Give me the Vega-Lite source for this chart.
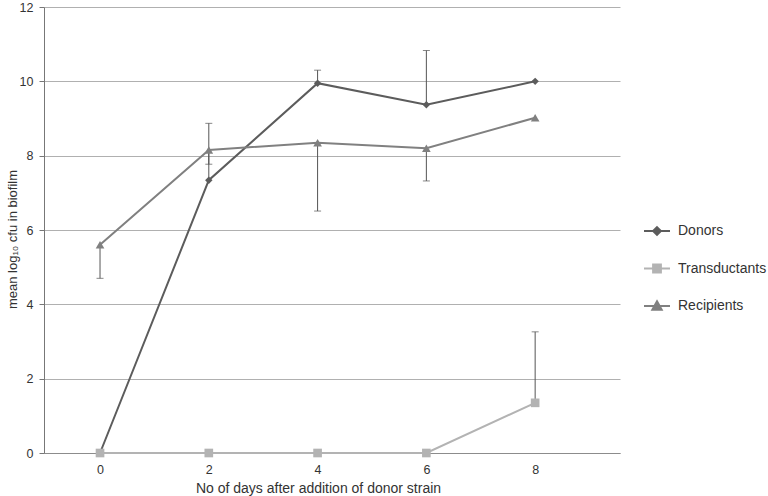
{
  "$schema": "https://vega.github.io/schema/vega-lite/v6.json",
  "autosize": "none",
  "width": 576,
  "height": 446,
  "padding": {"left": 44, "top": 7, "right": 148, "bottom": 43},
  "background": "white",
  "config": {
    "view": {"stroke": null},
    "font": "Liberation Sans",
    "axis": {"labelFont": "Liberation Sans", "titleFont": "Liberation Sans", "labelColor": "#333333", "titleColor": "#333333", "titleFontWeight": "normal", "labelFontSize": 12.5, "titleFontSize": 13}
  },
  "data": {
    "values": [
      {"series": "Donors", "day": 0, "mean": 0, "err": null},
      {"series": "Donors", "day": 2, "mean": 7.34, "err": 8.87},
      {"series": "Donors", "day": 4, "mean": 9.95, "err": 10.3},
      {"series": "Donors", "day": 6, "mean": 9.37, "err": 10.83},
      {"series": "Donors", "day": 8, "mean": 10.0, "err": null},
      {"series": "Transductants", "day": 0, "mean": 0, "err": null},
      {"series": "Transductants", "day": 2, "mean": 0, "err": null},
      {"series": "Transductants", "day": 4, "mean": 0, "err": null},
      {"series": "Transductants", "day": 6, "mean": 0, "err": null},
      {"series": "Transductants", "day": 8, "mean": 1.35, "err": 3.26},
      {"series": "Recipients", "day": 0, "mean": 5.6, "err": 4.7},
      {"series": "Recipients", "day": 2, "mean": 8.15, "err": 7.77},
      {"series": "Recipients", "day": 4, "mean": 8.35, "err": 6.51},
      {"series": "Recipients", "day": 6, "mean": 8.2, "err": 7.32},
      {"series": "Recipients", "day": 8, "mean": 9.02, "err": null}
    ]
  },
  "encoding": {
    "x": {
      "field": "day", "type": "quantitative",
      "scale": {"domain": [-1.03, 9.56], "nice": false, "zero": false},
      "axis": {"values": [0, 2, 4, 6, 8], "grid": false, "ticks": false, "domainColor": "#8c8c8c", "labelPadding": 10, "titleY": 35, "titleX": 274, "titleBaseline": "middle", "titleFontSize": 14, "title": "No of days after addition of donor strain"}
    }
  },
  "layer": [
    {
      "transform": [{"filter": "datum.err != null"}],
      "mark": {"type": "rule", "color": "#555555", "strokeWidth": 1},
      "encoding": {
        "y": {"field": "mean", "type": "quantitative"},
        "y2": {"field": "err"}
      }
    },
    {
      "transform": [{"filter": "datum.err != null"}],
      "mark": {"type": "tick", "orient": "horizontal", "color": "#555555", "size": 7, "thickness": 1},
      "encoding": {
        "y": {"field": "err", "type": "quantitative"}
      }
    },
    {
      "mark": {"type": "line", "strokeWidth": 2},
      "encoding": {
        "y": {
          "field": "mean", "type": "quantitative",
          "scale": {"domain": [0, 12], "nice": false},
          "axis": {"values": [0, 2, 4, 6, 8, 10, 12], "gridColor": "#b0b0b0", "domainColor": "#777777", "tickColor": "#777777", "tickSize": 5, "labelPadding": 6, "title": "mean log₁₀ cfu in biofilm", "titleX": -32, "titleY": 232, "titleBaseline": "middle", "titleFontSize": 13}
        },
        "color": {
          "field": "series", "type": "nominal",
          "scale": {"domain": ["Donors", "Transductants", "Recipients"], "range": ["#5c5c5c", "#b3b3b3", "#808080"]},
          "legend": {
            "title": null, "orient": "none", "legendX": 599, "legendY": 210,
            "labelFontSize": 14, "labelColor": "#333333", "labelFont": "Liberation Sans",
            "rowPadding": 15.5, "symbolSize": 676, "symbolStrokeWidth": 2, "labelOffset": 7,
            "encode": {
              "symbols": {
                "update": {
                  "shape": {"signal": "datum.value === 'Donors' ? 'M-1,0H1M0,-0.3L0.3,0L0,0.3L-0.3,0Z' : datum.value === 'Transductants' ? 'M-1,0H1M-0.3,-0.3H0.3V0.3H-0.3Z' : 'M-1,0H1M0,-0.36L0.36,0.28H-0.36Z'"},
                  "fill": {"signal": "scale('color', datum.value)"},
                  "stroke": {"signal": "scale('color', datum.value)"},
                  "strokeWidth": {"value": 2}
                }
              }
            }
          }
        },
        "detail": {"field": "series"}
      }
    },
    {
      "transform": [{"filter": "datum.series === 'Donors'"}],
      "mark": {"type": "point", "filled": true, "opacity": 1, "shape": "diamond", "size": 55},
      "encoding": {
        "y": {"field": "mean", "type": "quantitative"},
        "color": {"field": "series", "type": "nominal", "legend": null}
      }
    },
    {
      "transform": [{"filter": "datum.series === 'Transductants'"}],
      "mark": {"type": "point", "filled": true, "opacity": 1, "shape": "square", "size": 75},
      "encoding": {
        "y": {"field": "mean", "type": "quantitative"},
        "color": {"field": "series", "type": "nominal", "legend": null}
      }
    },
    {
      "transform": [{"filter": "datum.series === 'Recipients'"}],
      "mark": {"type": "point", "filled": true, "opacity": 1, "shape": "triangle-up", "size": 75},
      "encoding": {
        "y": {"field": "mean", "type": "quantitative"},
        "color": {"field": "series", "type": "nominal", "legend": null}
      }
    }
  ]
}
